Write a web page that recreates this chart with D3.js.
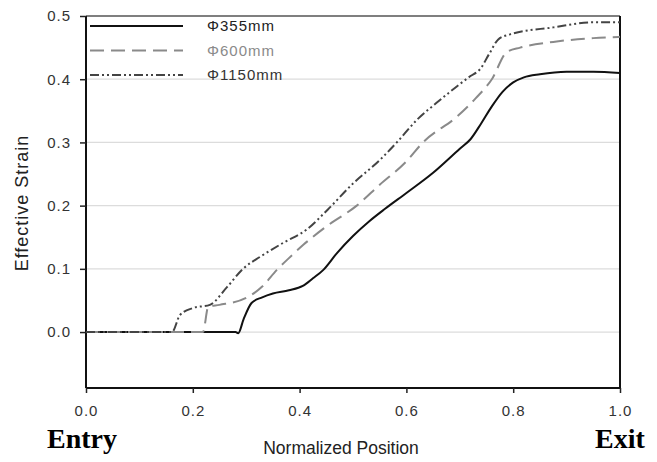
<!DOCTYPE html>
<html>
<head>
<meta charset="utf-8">
<script src="https://cdn.jsdelivr.net/npm/d3@7"></script>
<style>
body { margin: 0; background: #fff; }
svg text { font-family: "Liberation Sans", Arial, sans-serif; }
</style>
</head>
<body>
<svg id="chart" width="657" height="462"></svg>
<script>
// normalized position / effective strain
const pos355 = [0, 0.1, 0.2, 0.28, 0.285, 0.295, 0.31, 0.33, 0.35, 0.38, 0.406, 0.425, 0.444, 0.47, 0.5, 0.53, 0.56, 0.6, 0.65, 0.7, 0.72, 0.74, 0.76, 0.78, 0.8, 0.82, 0.85, 0.9, 0.95, 1.0];
const strain355 = [0, 0, 0, 0, -0.002, 0.02, 0.046, 0.055, 0.061, 0.066, 0.073, 0.085, 0.098, 0.125, 0.152, 0.175, 0.195, 0.22, 0.252, 0.29, 0.305, 0.33, 0.357, 0.38, 0.395, 0.403, 0.408, 0.412, 0.412, 0.41];

const pos600 = [0, 0.1, 0.2, 0.219, 0.229, 0.25, 0.3, 0.33, 0.357, 0.38, 0.407, 0.45, 0.507, 0.55, 0.6, 0.631, 0.695, 0.73, 0.76, 0.788, 0.813, 0.875, 0.95, 1.0];
const strain600 = [0, 0, 0, 0, 0.04, 0.043, 0.054, 0.072, 0.098, 0.117, 0.138, 0.167, 0.2, 0.233, 0.27, 0.3, 0.341, 0.37, 0.4, 0.443, 0.45, 0.459, 0.465, 0.467];

const pos1150 = [0, 0.1, 0.161, 0.176, 0.2, 0.232, 0.264, 0.294, 0.326, 0.369, 0.413, 0.453, 0.5, 0.55, 0.582, 0.62, 0.66, 0.695, 0.72, 0.738, 0.755, 0.772, 0.794, 0.875, 0.95, 1.0];
const strain1150 = [0, 0, 0, 0.027, 0.038, 0.043, 0.071, 0.1, 0.119, 0.141, 0.162, 0.194, 0.235, 0.272, 0.3, 0.336, 0.365, 0.389, 0.405, 0.416, 0.44, 0.463, 0.471, 0.482, 0.49, 0.49];

const seriesNames = ["\u03A6355mm", "\u03A6600mm", "\u03A61150mm"];
const xTicks = [0, 0.2, 0.4, 0.6, 0.8, 1.0];
const yTicks = [0, 0.1, 0.2, 0.3, 0.4, 0.5];

const series = [
    { name: seriesNames[0], xs: pos355, ys: strain355, color: "#111", dash: null, text: "#222" },
    { name: seriesNames[1], xs: pos600, ys: strain600, color: "#8a8a8a", dash: "14,7", text: "#8a8a8a" },
    { name: seriesNames[2], xs: pos1150, ys: strain1150, color: "#444", dash: "9,3,2,3,2,3", text: "#333" }
];

const svg = d3.select("#chart");
const plotLeft = 86, plotRight = 620, plotTop = 16, plotBottom = 388;

const x = d3.scaleLinear().domain([0, 1]).range([plotLeft, plotRight]);
const y = d3.scaleLinear().domain([-0.0885, 0.5]).range([plotBottom, plotTop]);

// gridlines
svg.append("g")
    .selectAll("line")
    .data(yTicks.slice(0, -1))
    .enter()
    .append("line")
    .attr("x1", plotLeft)
    .attr("x2", plotRight)
    .attr("y1", d => y(d))
    .attr("y2", d => y(d))
    .attr("stroke", "#dcdcdc")
    .attr("stroke-width", 1.2);

// frame: top and right
svg.append("line")
    .attr("x1", plotLeft).attr("x2", plotRight)
    .attr("y1", plotTop).attr("y2", plotTop)
    .attr("stroke", "#555").attr("stroke-width", 1.5);
svg.append("line")
    .attr("x1", plotRight).attr("x2", plotRight)
    .attr("y1", plotTop).attr("y2", plotBottom)
    .attr("stroke", "#111").attr("stroke-width", 2);

// axes
const yAxis = svg.append("g")
    .attr("transform", `translate(${plotLeft},0)`)
    .call(d3.axisLeft(y).tickValues(yTicks).tickFormat(d3.format(".1f")).tickSize(6).tickPadding(9));
const xAxis = svg.append("g")
    .attr("transform", `translate(0,${plotBottom})`)
    .call(d3.axisBottom(x).tickValues(xTicks).tickFormat(d3.format(".1f")).tickSize(5).tickPadding(12));

[yAxis, xAxis].forEach(g => {
    g.select(".domain").attr("stroke", "#111").attr("stroke-width", 2);
    g.selectAll(".tick line").attr("stroke", "#222").attr("stroke-width", 1.5);
    g.selectAll(".tick text")
        .attr("fill", "#333")
        .style("font-size", "15px")
        .style("letter-spacing", "1px");
});
yAxis.select(".domain").attr("d", `M0,${plotTop}V${plotBottom}`);
xAxis.select(".domain").attr("d", `M${plotLeft},0H${plotRight}`);

// curves
const line = d3.line()
    .x(d => x(d[0]))
    .y(d => y(d[1]))
    .curve(d3.curveMonotoneX);

series.forEach(s => {
    svg.append("path")
        .datum(s.xs.map((v, i) => [v, s.ys[i]]))
        .attr("d", line)
        .attr("fill", "none")
        .attr("stroke", s.color)
        .attr("stroke-width", 2)
        .attr("stroke-dasharray", s.dash);
});

// legend
const legend = svg.append("g")
    .selectAll("g")
    .data(series)
    .enter()
    .append("g")
    .attr("transform", (d, i) => `translate(90, ${26 + i * 24.5})`);

legend.append("line")
    .attr("x1", 0)
    .attr("x2", 93)
    .attr("stroke", d => d.color)
    .attr("stroke-width", 2)
    .attr("stroke-dasharray", d => d.dash);

legend.append("text")
    .attr("x", 117)
    .attr("y", 5)
    .attr("fill", d => d.text)
    .style("font-size", "15px")
    .style("letter-spacing", "1px")
    .text(d => d.name);

// labels
svg.append("text")
    .attr("transform", "translate(28, 203) rotate(-90)")
    .attr("text-anchor", "middle")
    .attr("fill", "#222")
    .style("font-size", "18px")
    .style("letter-spacing", "1px")
    .text("Effective Strain");

svg.append("text")
    .attr("x", 341)
    .attr("y", 454)
    .attr("text-anchor", "middle")
    .attr("fill", "#222")
    .style("font-size", "17.5px")
    .text("Normalized Position");

svg.append("text")
    .attr("x", 47)
    .attr("y", 448)
    .attr("fill", "#000")
    .style("font-family", "'Liberation Serif', 'Times New Roman', serif")
    .style("font-size", "28px")
    .style("font-weight", "bold")
    .text("Entry");

svg.append("text")
    .attr("x", 595)
    .attr("y", 448)
    .attr("fill", "#000")
    .style("font-family", "'Liberation Serif', 'Times New Roman', serif")
    .style("font-size", "28px")
    .style("font-weight", "bold")
    .text("Exit");
</script>
</body>
</html>
